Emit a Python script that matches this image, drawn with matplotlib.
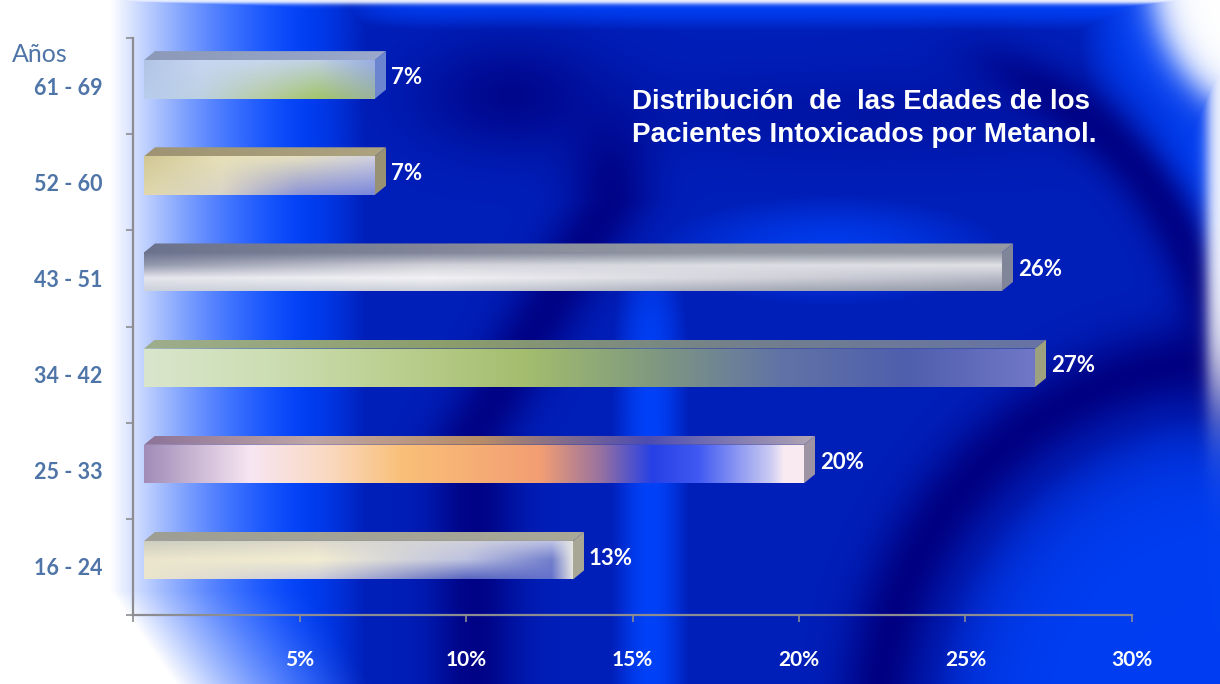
import numpy as np
import matplotlib
matplotlib.use("Agg")
import matplotlib.pyplot as plt
from matplotlib.patches import Polygon
from matplotlib.font_manager import FontProperties

# ---------------- data ----------------
categories = ["16 - 24", "25 - 33", "34 - 42", "43 - 51", "52 - 60", "61 - 69"]
values = [13, 20, 27, 26, 7, 7]
value_labels = ["13%", "20%", "27%", "26%", "7%", "7%"]
xticks = [0, 5, 10, 15, 20, 25, 30]
xtick_labels = ["0%", "5%", "10%", "15%", "20%", "25%", "30%"]
axis_title = "Años"
title_lines = ["Distribución  de  las Edades de los",
               "Pacientes Intoxicados por Metanol."]

# ---------------- style ----------------
W, H = 1220, 684
LABEL_BLUE = (0.31, 0.46, 0.66)
GREY = (0.55, 0.55, 0.57)
FRONT_H = 0.40
FRONT_SHIFT = 0.07
FRONT_OFFSET_PX = 11      # 3-D front plane offset from the axis wall
PERSPECTIVE = 0.991       # front plane slightly smaller than axis plane
DX, DY = 11, 9

front_rows = {
    "61 - 69": [[(0.70, 0.77, 0.90), (0.78, 0.84, 0.95), (0.78, 0.84, 0.93), (0.75, 0.82, 0.88),
                 (0.60, 0.68, 0.90)],
                [(0.72, 0.80, 0.93), (0.74, 0.82, 0.88), (0.72, 0.80, 0.65), (0.64, 0.77, 0.42),
                 (0.60, 0.70, 0.62)]],
    "52 - 60": [[(0.82, 0.78, 0.58), (0.91, 0.88, 0.72), (0.90, 0.88, 0.76), (0.82, 0.82, 0.88)],
                [(0.88, 0.85, 0.68), (0.85, 0.83, 0.78), (0.55, 0.58, 0.84), (0.48, 0.53, 0.86)]],
    "43 - 51": [[(0.42, 0.45, 0.56), (0.50, 0.52, 0.60), (0.56, 0.58, 0.63), (0.58, 0.60, 0.65)],
                [(0.58, 0.60, 0.68), (0.82, 0.82, 0.85), (0.86, 0.87, 0.89), (0.88, 0.88, 0.90)],
                [(0.90, 0.90, 0.93), (0.95, 0.95, 0.96), (0.84, 0.84, 0.87), (0.72, 0.73, 0.78)],
                [(0.80, 0.82, 0.86), (0.80, 0.81, 0.85), (0.66, 0.68, 0.73), (0.58, 0.60, 0.66)]],
    "34 - 42": [[(0.85, 0.90, 0.80), (0.80, 0.87, 0.70), (0.73, 0.81, 0.56), (0.64, 0.74, 0.43),
                 (0.50, 0.60, 0.50), (0.38, 0.45, 0.65), (0.31, 0.37, 0.68), (0.44, 0.47, 0.78)]],
    "25 - 33": [[(0.0, (0.63, 0.55, 0.72)), (0.16, (0.97, 0.90, 0.95)), (0.28, (0.98, 0.85, 0.75)),
                 (0.39, (0.98, 0.75, 0.47)), (0.60, (0.95, 0.62, 0.45)), (0.69, (0.60, 0.45, 0.62)),
                 (0.77, (0.15, 0.25, 0.90)), (0.84, (0.25, 0.35, 0.95)), (0.95, (0.80, 0.80, 0.95)),
                 (0.97, (0.98, 0.92, 0.95)), (1.0, (0.98, 0.92, 0.95))]],
    "16 - 24": [[(0.0, (0.80, 0.80, 0.75)), (0.4, (0.86, 0.85, 0.80)), (0.75, (0.82, 0.82, 0.86)),
                 (0.95, (0.75, 0.77, 0.90)), (1.0, (0.90, 0.90, 0.88))],
                [(0.0, (0.92, 0.90, 0.80)), (0.4, (0.95, 0.93, 0.82)), (0.75, (0.74, 0.76, 0.88)),
                 (0.95, (0.45, 0.50, 0.80)), (1.0, (0.92, 0.92, 0.90))],
                [(0.0, (0.92, 0.90, 0.80)), (0.4, (0.80, 0.80, 0.86)), (0.75, (0.35, 0.40, 0.75)),
                 (0.95, (0.40, 0.45, 0.80)), (1.0, (0.90, 0.90, 0.88))]],
}
top_rows = {
    "61 - 69": [[(0.55, 0.60, 0.72), (0.60, 0.66, 0.80)]],
    "52 - 60": [[(0.62, 0.58, 0.45), (0.68, 0.64, 0.50)]],
    "43 - 51": [[(0.42, 0.45, 0.55), (0.55, 0.57, 0.62), (0.58, 0.60, 0.64)]],
    "34 - 42": [[(0.62, 0.68, 0.55), (0.55, 0.62, 0.42), (0.45, 0.50, 0.55), (0.40, 0.45, 0.65)]],
    "25 - 33": [[(0.55, 0.45, 0.60), (0.75, 0.65, 0.65), (0.72, 0.55, 0.40), (0.30, 0.30, 0.70),
                 (0.70, 0.65, 0.70)]],
    "16 - 24": [[(0.62, 0.62, 0.58), (0.66, 0.66, 0.60)]],
}
side_color = {
    "61 - 69": (0.42, 0.52, 0.82), "52 - 60": (0.60, 0.57, 0.45), "43 - 51": (0.50, 0.52, 0.60),
    "34 - 42": (0.62, 0.63, 0.50), "25 - 33": (0.62, 0.58, 0.64), "16 - 24": (0.66, 0.65, 0.58),
}

plt.rcParams["font.family"] = ["Lato", "DejaVu Sans"]


def gradient(rows, nx=300, ny=40):
    xs = np.linspace(0, 1, nx)
    out_rows = []
    for row in rows:
        if isinstance(row[0][0], float) and isinstance(row[0][1], tuple):
            pos = [p for p, _ in row]
            cols = np.array([c for _, c in row])
        else:
            pos = np.linspace(0, 1, len(row))
            cols = np.array(row)
        out_rows.append(np.stack([np.interp(xs, pos, cols[:, k]) for k in range(3)], axis=-1))
    out_rows = np.array(out_rows)
    if len(out_rows) == 1:
        return np.repeat(out_rows, ny, axis=0)
    ys = np.linspace(0, 1, ny)
    rp = np.linspace(0, 1, len(out_rows))
    img = np.empty((ny, nx, 3))
    for k in range(3):
        for j in range(nx):
            img[:, j, k] = np.interp(ys, rp, out_rows[:, j, k])
    return img


def background():
    Y, X = np.mgrid[0:H, 0:W].astype(float)

    def g(v, s):
        return np.exp(-(v / s) ** 2)

    def sig(v):
        return 1 / (1 + np.exp(-np.clip(v, -50, 50)))

    b = np.full((H, W), 0.45)
    b = np.maximum(b, sig((360 - X) / 25))
    b = np.maximum(b, 0.9 * g(Y - 5, 30) * sig((X - 330) / 30))
    b = np.maximum(b, 0.85 * g(X - 830, 220) * g(Y - 250, 70))
    b = np.maximum(b, 0.95 * g(X - 650, 45) * sig((Y - 250) / 30))
    dl = np.hypot(X - 1240, Y - 720)
    b = np.maximum(b, 0.9 * sig((310 - dl) / 30))
    du = np.hypot(X - 876, Y - 384)
    b = np.maximum(b, 0.95 * sig((du - 345) / 15) * sig((X - 1080) / 20) * sig((380 - Y) / 20))
    # dark structures
    b = b * (1 - 0.95 * g(dl - 362, 40))
    b = b * (1 - 0.9 * g(du - 338, 28) * sig((X - 990) / 25) * sig((380 - Y) / 25))
    xa = 475 + 135 * np.clip((430 - Y) / 230, 0, 1)
    b = b * (1 - 0.9 * g(X - xa, 42) * sig((Y - 130) / 20))
    b = b * (1 - 0.75 * g(X - 510, 90) * g(Y - 95, 55))
    b = b * (1 - 0.35 * g(X - 870, 260) * g(Y - 115, 45))
    b = np.clip(b, 0, 1)

    navy = np.array([0.0, 0.0, 0.50])
    bright = np.array([0.0, 0.27, 1.0])
    col = navy[None, None, :] * (1 - b[..., None]) + bright[None, None, :] * b[..., None]

    shift = np.maximum(0, Y - 590) * 0.7
    w = np.clip(1 - (X - 110 - shift) / 200, 0, 1) ** 1.5
    dt = np.hypot(X - 1300, Y + 20)
    w = np.maximum(w, sig((148 - dt) / 10))
    w = np.maximum(w, 0.95 * sig((X - 1207) / 4) * sig((400 - Y) / 30))
    w = np.maximum(w, 0.9 * g(Y, 4))
    w = np.clip(w, 0, 1)
    col = col * (1 - w[..., None]) + w[..., None]
    return col


fig = plt.figure(figsize=(W / 100, H / 100), dpi=100)

bg = fig.add_axes([0, 0, 1, 1], zorder=0)
bg.imshow(background(), extent=[0, W, H, 0], aspect="auto", interpolation="bilinear")
bg.set_xlim(0, W)
bg.set_ylim(H, 0)
bg.axis("off")

ax = fig.add_axes([133 / W, (H - 615) / H, (1132 - 133) / W, (615 - 38) / H], zorder=1)
ax.patch.set_alpha(0)
ax.set_xlim(0, 30)
ax.set_ylim(-0.5, len(categories) - 0.5)
for s in ["top", "right"]:
    ax.spines[s].set_visible(False)
for s in ["left", "bottom"]:
    ax.spines[s].set_color(GREY)
    ax.spines[s].set_linewidth(1.6)
ax.set_xticks(xticks)
ax.set_xticklabels(xtick_labels)
ax.tick_params(axis="x", direction="out", length=5, width=1.2, color=GREY, pad=20,
               labelcolor="white", labelsize=15)
for t in ax.get_xticklabels():
    t.set_fontweight("bold")
ypos = np.arange(len(categories))
ax.set_yticks(ypos)
ax.set_yticklabels(categories)
ax.set_yticks(np.arange(-0.5, len(categories)), minor=True)
ax.tick_params(axis="y", which="major", length=0, pad=22, labelcolor=LABEL_BLUE, labelsize=15.5)
ax.tick_params(axis="y", which="minor", direction="out", length=5, width=1.2, color=GREY)
for t in ax.get_yticklabels():
    t.set_fontweight("bold")

# overlay in pixel units for the 3-D bars
ov = fig.add_axes([0, 0, 1, 1], zorder=2)
ov.set_xlim(0, W)
ov.set_ylim(0, H)
ov.patch.set_alpha(0)
ov.axis("off")
ov.set_autoscale_on(False)

x_wall = ax.transData.transform([(0, 0)])[0][0]


def front_x(xd):
    return x_wall + FRONT_OFFSET_PX + (xd - x_wall) * PERSPECTIVE


for i, (cat, v, lab) in enumerate(zip(categories, values, value_labels)):
    yb = i + FRONT_SHIFT - FRONT_H / 2
    yt = i + FRONT_SHIFT + FRONT_H / 2
    (x0, y0), (x1, y1) = ax.transData.transform([(0, yb), (v, yt)])
    x0, x1 = front_x(x0), front_x(x1)
    front = Polygon([(x0, y0), (x1, y0), (x1, y1), (x0, y1)], closed=True,
                    facecolor="none", edgecolor="none")
    ov.add_patch(front)
    im = ov.imshow(gradient(front_rows[cat]), extent=[x0, x1, y0, y1], origin="upper",
                   aspect="auto", interpolation="bilinear", zorder=3)
    im.set_clip_path(front)
    top = Polygon([(x0, y1), (x1, y1), (x1 + DX, y1 + DY), (x0 + DX, y1 + DY)], closed=True,
                  facecolor="none", edgecolor="none")
    ov.add_patch(top)
    im2 = ov.imshow(gradient(top_rows[cat], ny=4), extent=[x0, x1 + DX, y1, y1 + DY],
                    origin="upper", aspect="auto", interpolation="bilinear", zorder=3)
    im2.set_clip_path(top)
    ov.add_patch(Polygon([(x1, y0), (x1, y1), (x1 + DX, y1 + DY), (x1 + DX, y0 + DY)],
                         closed=True, facecolor=side_color[cat], edgecolor="none", zorder=3))
    ov.text(x1 + 16, (y0 + y1) / 2 + 2, lab, ha="left", va="center", color="white",
            fontsize=16, fontweight="bold", zorder=4)

fig.text(12 / W, 1 - 54 / H, axis_title, ha="left", va="center", color=LABEL_BLUE, fontsize=18)
title_font = FontProperties(family="Liberation Sans", weight="bold", size=20)
for k, line in enumerate(title_lines):
    fig.text(632 / W, 1 - (102 + 33 * k) / H, line, ha="left", va="center", color="white",
             fontproperties=title_font, zorder=5)

fig.savefig("out.png", dpi=100)
